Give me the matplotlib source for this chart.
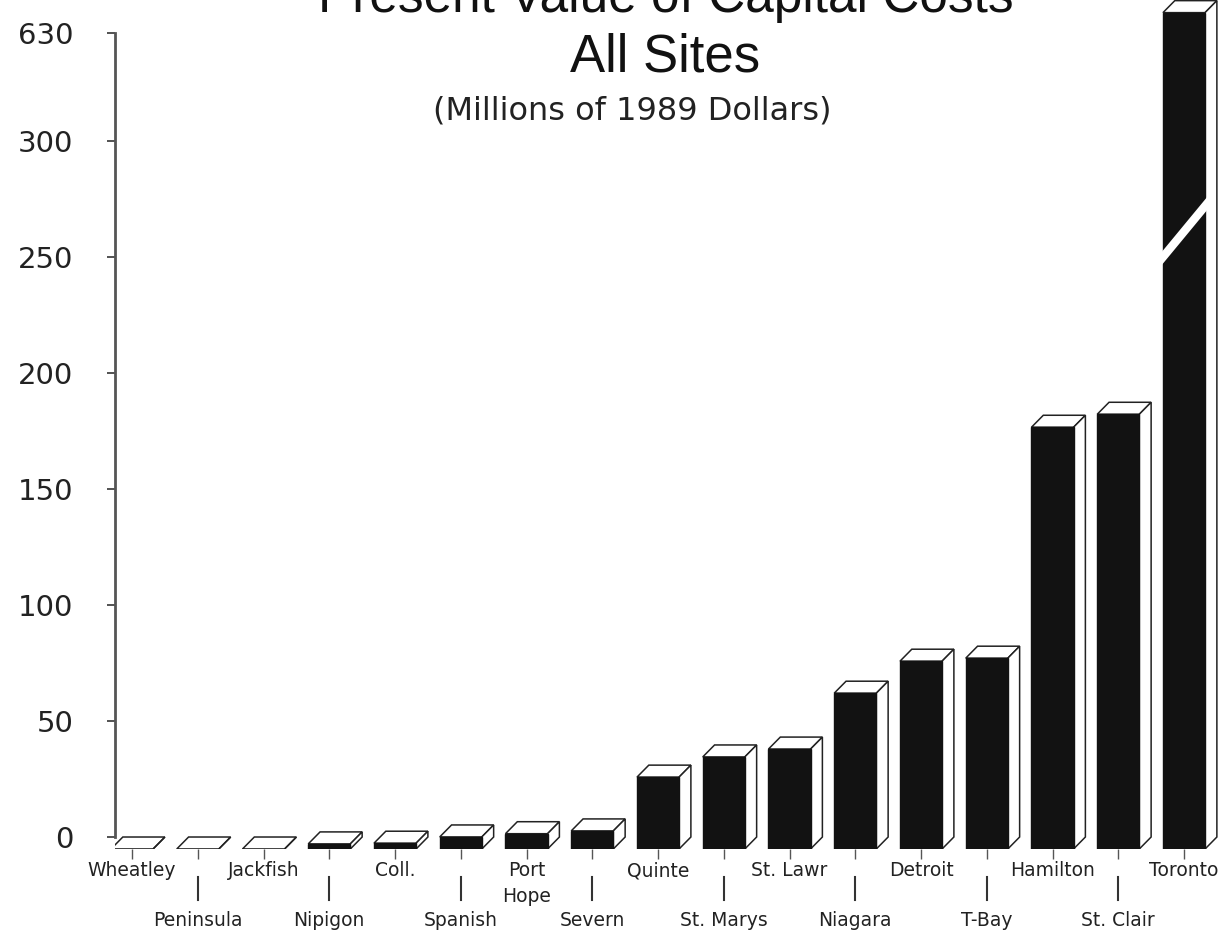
import numpy as np
import matplotlib
matplotlib.use("Agg")
import matplotlib.pyplot as plt
from matplotlib.patches import Polygon
from matplotlib import transforms

# ---- data ----
sites = ["Wheatley", "Peninsula", "Jackfish", "Nipigon", "Coll.", "Spanish",
         "Port\nHope", "Severn", "Quinte", "St. Marys", "St. Lawr", "Niagara",
         "Detroit", "T-Bay", "Hamilton", "St. Clair", "Toronto"]
costs = [0, 0, 0, 2.2, 2.5, 5.2, 6.6, 7.8, 31, 39.7, 43.1, 67.2,
         81, 82.3, 181.9, 187.5, 730]
y_ticks = [0, 50, 100, 150, 200, 250, 300, 630]
y_ticklabels = ["0", "50", "100", "150", "200", "250", "300", "630"]

title1 = "Present Value of Capital Costs"
title2 = "All Sites"
subtitle = "(Millions of 1989 Dollars)"

# ---- broken (compressed) scale above 300 ----
BREAK = 300.0
COMP = 46.6 / 330.0


def fwd(y):
    y = np.asarray(y, dtype=float)
    return np.where(y <= BREAK, y, BREAK + (y - BREAK) * COMP)


def inv(d):
    d = np.asarray(d, dtype=float)
    return np.where(d <= BREAK, d, BREAK + (d - BREAK) / COMP)


W = 0.64     # front face width (x units)
DX = 0.18    # depth, x units
DY = 5.17    # depth, display-linear units

fig = plt.figure(figsize=(12.32, 9.41), dpi=100)
ax = fig.add_axes([115 / 1232, 92 / 941, 1117 / 1232, 849 / 941])
ax.set_yscale("function", functions=(fwd, inv))
ax.set_xlim(-0.259, 16.73)
ax.set_ylim(-DY, float(inv(361.0)))

x = np.arange(len(sites))
for i, v in zip(x, costs):
    back_top = v
    front_top = float(inv(fwd(v) - DY))
    front_bot = -DY
    back_bot = 0.0
    ax.bar(i, front_top - front_bot, bottom=front_bot, width=W,
           color="#121212", edgecolor="#121212", linewidth=1, zorder=3)
    top = Polygon([(i - W / 2, front_top), (i + W / 2, front_top),
                   (i + W / 2 + DX, back_top), (i - W / 2 + DX, back_top)],
                  closed=True, facecolor="white", edgecolor="#222",
                  linewidth=1.1, zorder=2)
    side = Polygon([(i + W / 2, front_bot), (i + W / 2, front_top),
                    (i + W / 2 + DX, back_top), (i + W / 2 + DX, back_bot)],
                   closed=True, facecolor="white", edgecolor="#222",
                   linewidth=1.1, zorder=2)
    ax.add_patch(top)
    ax.add_patch(side)

# break mark on the tallest bar
last = x[-1]
ax.plot([last - 0.4, last + 0.43], [247.4, 275.9], color="white",
        linewidth=6, solid_capstyle="butt", zorder=6)

# axes styling
for s in ["top", "right", "bottom"]:
    ax.spines[s].set_visible(False)
ax.spines["left"].set_bounds(0, 630)
ax.spines["left"].set_color("#555555")
ax.spines["left"].set_linewidth(2)

ax.set_yticks(y_ticks)
ax.set_yticklabels(y_ticklabels)
ax.tick_params(axis="y", direction="out", length=6, width=1.3,
               colors="#444444", labelcolor="#222222", labelsize=21, pad=24)
ax.set_xticks(x)
ax.set_xticklabels([""] * len(x))
ax.tick_params(axis="x", direction="out", length=7, width=1,
               colors="#555555")

# staggered category labels
blend = transforms.blended_transform_factory(ax.transData, ax.transAxes)
for i, name in zip(x, sites):
    if i % 2 == 0:
        ax.annotate(name, xy=(i, 0), xycoords=("data", "axes fraction"),
                    xytext=(0, -9), textcoords="offset points",
                    ha="center", va="top", fontsize=13.5, color="#222222",
                    linespacing=1.45, fontfamily="DejaVu Sans")
    else:
        ax.plot([i, i], [(849 - 877) / 849, (849 - 900) / 849],
                transform=blend, color="#333333", linewidth=1.5,
                clip_on=False)
        ax.annotate(name, xy=(i, 0), xycoords=("data", "axes fraction"),
                    xytext=(0, -45), textcoords="offset points",
                    ha="center", va="top", fontsize=13.5, color="#222222",
                    fontfamily="DejaVu Sans")

# titles
fig.text(666 / 1232, 1 - 12 / 941, title1, ha="center", va="baseline",
         fontsize=37, family=["Liberation Sans", "DejaVu Sans"], color="#111111")
fig.text(665 / 1232, 1 - 71 / 941, title2, ha="center", va="baseline",
         fontsize=38, family=["Liberation Sans", "DejaVu Sans"], color="#111111")
fig.text(632 / 1232, 1 - 119 / 941, subtitle, ha="center", va="baseline",
         fontsize=23, family=["DejaVu Sans"], color="#222222")

fig.savefig("out.png", dpi=100, facecolor="white")
